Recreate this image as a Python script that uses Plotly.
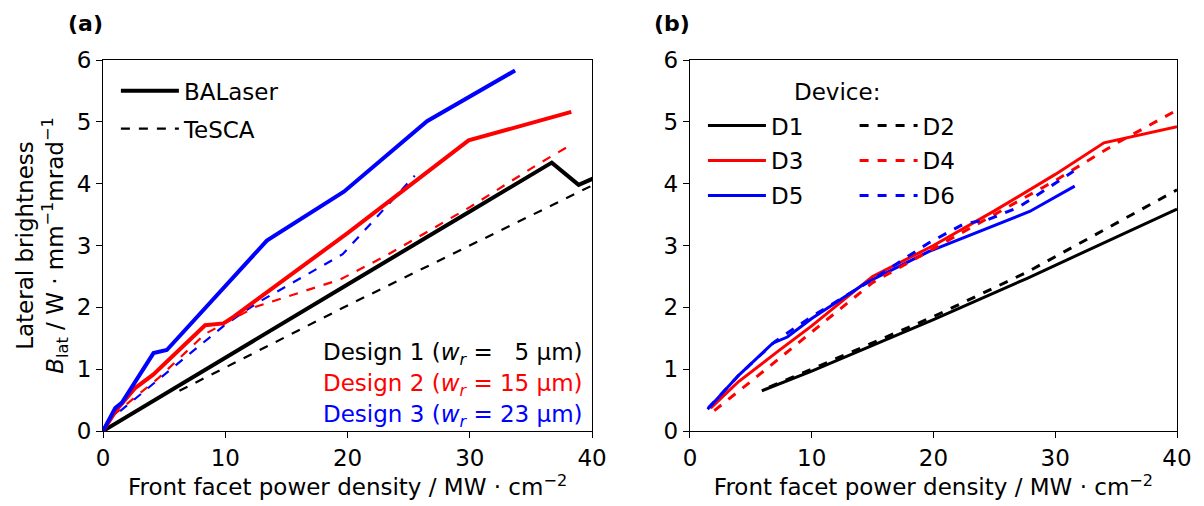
import plotly.graph_objects as go

# ---------------- Panel (a) data ----------------
d1_bal_x = [0, 10, 20, 30, 36.7, 38.9, 40.5]
d1_bal_y = [0, 1.19, 2.37, 3.55, 4.34, 3.98, 4.12]
d1_tes_x = [6.25, 20, 40]
d1_tes_y = [0.65, 2.03, 3.97]

d2_bal_x = [0, 1.1, 2.6, 4.1, 8.35, 9.85, 10.7, 20, 29.9, 38.3]
d2_bal_y = [0, 0.34, 0.69, 0.91, 1.71, 1.74, 1.85, 3.2, 4.70, 5.16]
d2_tes_x = [0.8, 4.5, 8.35, 12.5, 19.4, 23.0, 30.0, 35.7, 38.3]
d2_tes_y = [0.25, 0.85, 1.57, 2.01, 2.45, 2.82, 3.62, 4.33, 4.63]

d3_bal_x = [0, 1.0, 1.55, 4.13, 5.22, 13.4, 19.7, 26.5, 33.7]
d3_bal_y = [0, 0.37, 0.46, 1.26, 1.31, 3.08, 3.87, 5.01, 5.83]
d3_tes_x = [1.4, 4.0, 5.8, 10.0, 12.6, 19.6, 25.5]
d3_tes_y = [0.32, 0.75, 1.04, 1.72, 2.07, 2.86, 4.13]

# ---------------- Panel (b) data ----------------
D1_x = [5.9, 10, 20, 27.7, 40]
D1_y = [0.65, 0.97, 1.80, 2.47, 3.59]
D2_x = [6.5, 10, 20, 27.7, 40]
D2_y = [0.71, 1.0, 1.85, 2.57, 3.90]
D3_x = [1.7, 4.0, 7.3, 10.0, 15.0, 20.0, 25.0, 30.0, 34.0, 40.0]
D3_y = [0.37, 0.80, 1.30, 1.70, 2.50, 3.00, 3.56, 4.15, 4.66, 4.92]
D4_x = [2.0, 5.0, 10.0, 15.0, 20.0, 25.0, 30.0, 35.0, 40.0]
D4_y = [0.33, 0.80, 1.60, 2.40, 2.95, 3.50, 4.05, 4.65, 5.19]
D5_x = [1.45, 4.0, 6.8, 8.0, 10.0, 14.4, 19.6, 27.9, 31.6]
D5_y = [0.35, 0.90, 1.42, 1.52, 1.82, 2.39, 2.90, 3.55, 3.96]
D6_x = [1.5, 4.0, 7.0, 10.0, 15.0, 19.6, 22.5, 24.5, 27.0, 31.5]
D6_y = [0.37, 0.90, 1.45, 1.85, 2.45, 3.04, 3.35, 3.42, 3.62, 4.20]

x_ticks = [0, 10, 20, 30, 40]
y_ticks = [0, 1, 2, 3, 4, 5, 6]

BLACK, RED, BLUE = "#000000", "#ff0000", "#0000ff"
FONT = "DejaVu Sans"
FS = 23

fig = go.Figure()

def add(x, y, color, width, dash, xa, ya, name=None, legend=None, show=False):
    fig.add_trace(go.Scatter(
        x=x, y=y, mode="lines", xaxis=xa, yaxis=ya,
        line=dict(color=color, width=width, dash=dash),
        name=name, showlegend=show, legend=legend, legendgroup=name,
        hoverinfo="skip"))

# panel (a)
add(d1_tes_x, d1_tes_y, BLACK, 2.2, "dash", "x", "y")
add(d2_tes_x, d2_tes_y, RED, 2.2, "dash", "x", "y")
add(d3_tes_x, d3_tes_y, BLUE, 2.2, "dash", "x", "y")
add(d1_bal_x, d1_bal_y, BLACK, 4, "solid", "x", "y")
add(d2_bal_x, d2_bal_y, RED, 4, "solid", "x", "y")
add(d3_bal_x, d3_bal_y, BLUE, 4, "solid", "x", "y")
# legend entries (a)
add([None], [None], BLACK, 4, "solid", "x", "y", "BALaser", "legend", True)
add([None], [None], BLACK, 2.2, "dash", "x", "y", "TeSCA", "legend", True)

# panel (b)
add(D1_x, D1_y, BLACK, 3, "solid", "x2", "y2", "D1", "legend2", True)
add(D3_x, D3_y, RED, 3, "solid", "x2", "y2", "D3", "legend2", True)
add(D5_x, D5_y, BLUE, 3, "solid", "x2", "y2", "D5", "legend2", True)
add(D2_x, D2_y, BLACK, 3, "dash", "x2", "y2", "D2", "legend3", True)
add(D4_x, D4_y, RED, 3, "dash", "x2", "y2", "D4", "legend3", True)
add(D6_x, D6_y, BLUE, 3, "dash", "x2", "y2", "D6", "legend3", True)

ax_common = dict(
    range=[0, 40], tickvals=x_ticks, ticks="outside", ticklen=6, tickwidth=1.2,
    tickcolor="black", showline=True, linecolor="black", linewidth=1.2,
    mirror=True, showgrid=False, zeroline=False,
    tickfont=dict(family=FONT, size=FS, color="black"),
)
ay_common = dict(
    range=[0, 6], tickvals=y_ticks, ticks="outside", ticklen=6, tickwidth=1.2,
    tickcolor="black", showline=True, linecolor="black", linewidth=1.2,
    mirror=True, showgrid=False, zeroline=False,
    tickfont=dict(family=FONT, size=FS, color="black"),
)
xtitle = dict(text="Front facet power density / MW · cm<sup>−2</sup>",
              font=dict(family=FONT, size=FS, color="black"), standoff=6)

leg_font = dict(family=FONT, size=FS, color="black")

ann = []
ann.append(dict(text="<b>(a)</b>", xref="paper", yref="paper", x=-0.0345, y=1.0997,
                xanchor="left", yanchor="middle", showarrow=False,
                font=dict(family=FONT, size=22, color="black")))
ann.append(dict(text="<b>(b)</b>", xref="paper", yref="paper", x=0.5115, y=1.0997,
                xanchor="left", yanchor="middle", showarrow=False,
                font=dict(family=FONT, size=22, color="black")))
ann.append(dict(text="Device:", xref="x2 domain", yref="y2 domain", x=0.209, y=0.914,
                xanchor="left", yanchor="middle", showarrow=False,
                font=dict(family=FONT, size=FS, color="black")))
designs = [
    ("Design 1 (<i>w<sub>r</sub></i> =   5 µm)", BLACK, 0.2075),
    ("Design 2 (<i>w<sub>r</sub></i> = 15 µm)", RED, 0.124),
    ("Design 3 (<i>w<sub>r</sub></i> = 23 µm)", BLUE, 0.040),
]
for txt, col, yy in designs:
    ann.append(dict(text=txt, xref="x domain", yref="y domain", x=0.986, y=yy,
                    xanchor="right", yanchor="middle", showarrow=False,
                    font=dict(family=FONT, size=FS, color=col)))

fig.update_layout(
    width=1204, height=506,
    margin=dict(l=103, r=25, t=60, b=75),
    paper_bgcolor="white", plot_bgcolor="white",
    font=dict(family=FONT, color="black"),
    xaxis=dict(domain=[0, 0.4554], anchor="y", title=xtitle, **ax_common),
    yaxis=dict(domain=[0, 1], anchor="x",
               title=dict(text="Lateral brightness<br><i>B</i><sub>lat</sub> / W · mm<sup>−1</sup>mrad<sup>−1</sup>",
                          font=dict(family=FONT, size=FS, color="black"), standoff=6),
               **ay_common),
    xaxis2=dict(domain=[0.5465, 1], anchor="y2", title=xtitle, **ax_common),
    yaxis2=dict(domain=[0, 1], anchor="x2", **ay_common),
    legend=dict(x=0.012, y=0.975, xanchor="left", yanchor="top",
                bgcolor="rgba(0,0,0,0)", font=leg_font, tracegroupgap=5,
                itemwidth=58),
    legend2=dict(x=0.5586, y=0.881, xanchor="left", yanchor="top",
                 bgcolor="rgba(0,0,0,0)", font=leg_font, itemwidth=58,
                 tracegroupgap=2),
    legend3=dict(x=0.6998, y=0.881, xanchor="left", yanchor="top",
                 bgcolor="rgba(0,0,0,0)", font=leg_font, itemwidth=58,
                 tracegroupgap=2),
    annotations=ann,
)

fig.write_html("out.html")
